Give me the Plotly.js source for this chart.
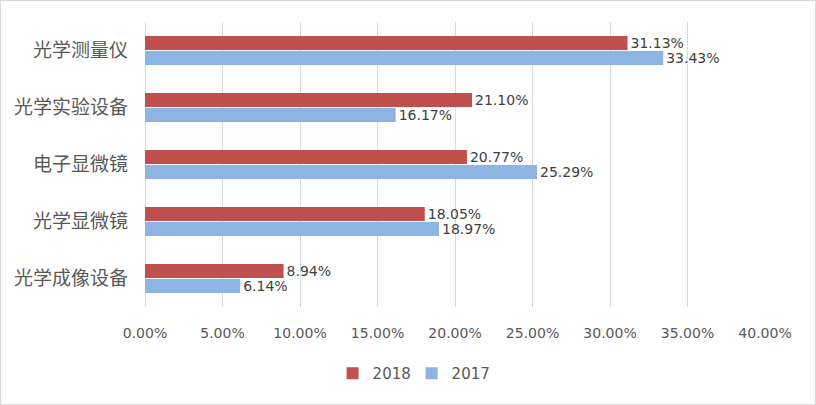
<!DOCTYPE html>
<html>
<head>
<meta charset="utf-8">
<script src="https://cdn.plot.ly/plotly-3.0.1.min.js"></script>
<style>
html,body{margin:0;padding:0;background:#fff;}
#chart{width:816px;height:405px;box-sizing:border-box;border:1px solid #D9D9D9;}
</style>
</head>
<body>
<div id="chart"></div>
<script>
const categories = ["光学测量仪", "光学实验设备", "电子显微镜", "光学显微镜", "光学成像设备"];
const values2018 = [31.13, 21.10, 20.77, 18.05, 8.94];
const values2017 = [33.43, 16.17, 25.29, 18.97, 6.14];
const tickValues = [0, 5, 10, 15, 20, 25, 30, 35, 40];
const tickLabels = ["0.00%", "5.00%", "10.00%", "15.00%", "20.00%", "25.00%", "30.00%", "35.00%", "40.00%"];

const cjkFam = '"Noto Sans CJK SC", "Microsoft YaHei", sans-serif';
const numFam = '"DejaVu Sans", "Noto Sans CJK SC", sans-serif';
const traces = [
  {type:'bar', orientation:'h', name:'2018', y:categories, x:values2018,
   marker:{color:'#C0504D'}, text:values2018.map(v=>v.toFixed(2)+'%'),
   textposition:'outside', cliponaxis:false, constraintext:'none',
   textfont:{family:numFam, size:14, color:'#404040'}},
  {type:'bar', orientation:'h', name:'2017', y:categories, x:values2017,
   marker:{color:'#8EB4E3'}, text:values2017.map(v=>v.toFixed(2)+'%'),
   textposition:'outside', cliponaxis:false, constraintext:'none',
   textfont:{family:numFam, size:14, color:'#404040'}}
];
const layout = {
  width:814, height:403,
  margin:{l:144, r:50, t:21, b:97, autoexpand:false},
  paper_bgcolor:'#fff', plot_bgcolor:'#fff',
  font:{family:cjkFam, color:'#595959'},
  barmode:'group', bargap:0.47, bargroupgap:0.07,
  showlegend:true,
  legend:{orientation:'h', x:0.43, xanchor:'center', y:-0.175, yanchor:'top',
          entrywidth:34,
          font:{size:15, color:'#595959', family:numFam}},
  xaxis:{range:[0,40], tickvals:tickValues, ticktext:tickLabels,
         showgrid:true, gridcolor:'#D9D9D9', gridwidth:1, zeroline:true,
         zerolinecolor:'#D9D9D9', showline:false, ticks:'', automargin:false,
         ticklabelstandoff:16, tickfont:{size:14, color:'#595959', family:numFam}},
  yaxis:{autorange:'reversed', type:'category', showgrid:false, zeroline:false,
         showline:false, ticks:'', ticklabelstandoff:16, automargin:false,
         tickfont:{size:19, color:'#595959', family:cjkFam}}
};
Plotly.newPlot('chart', traces, layout, {displayModeBar:false, staticPlot:true});
</script>
</body>
</html>
